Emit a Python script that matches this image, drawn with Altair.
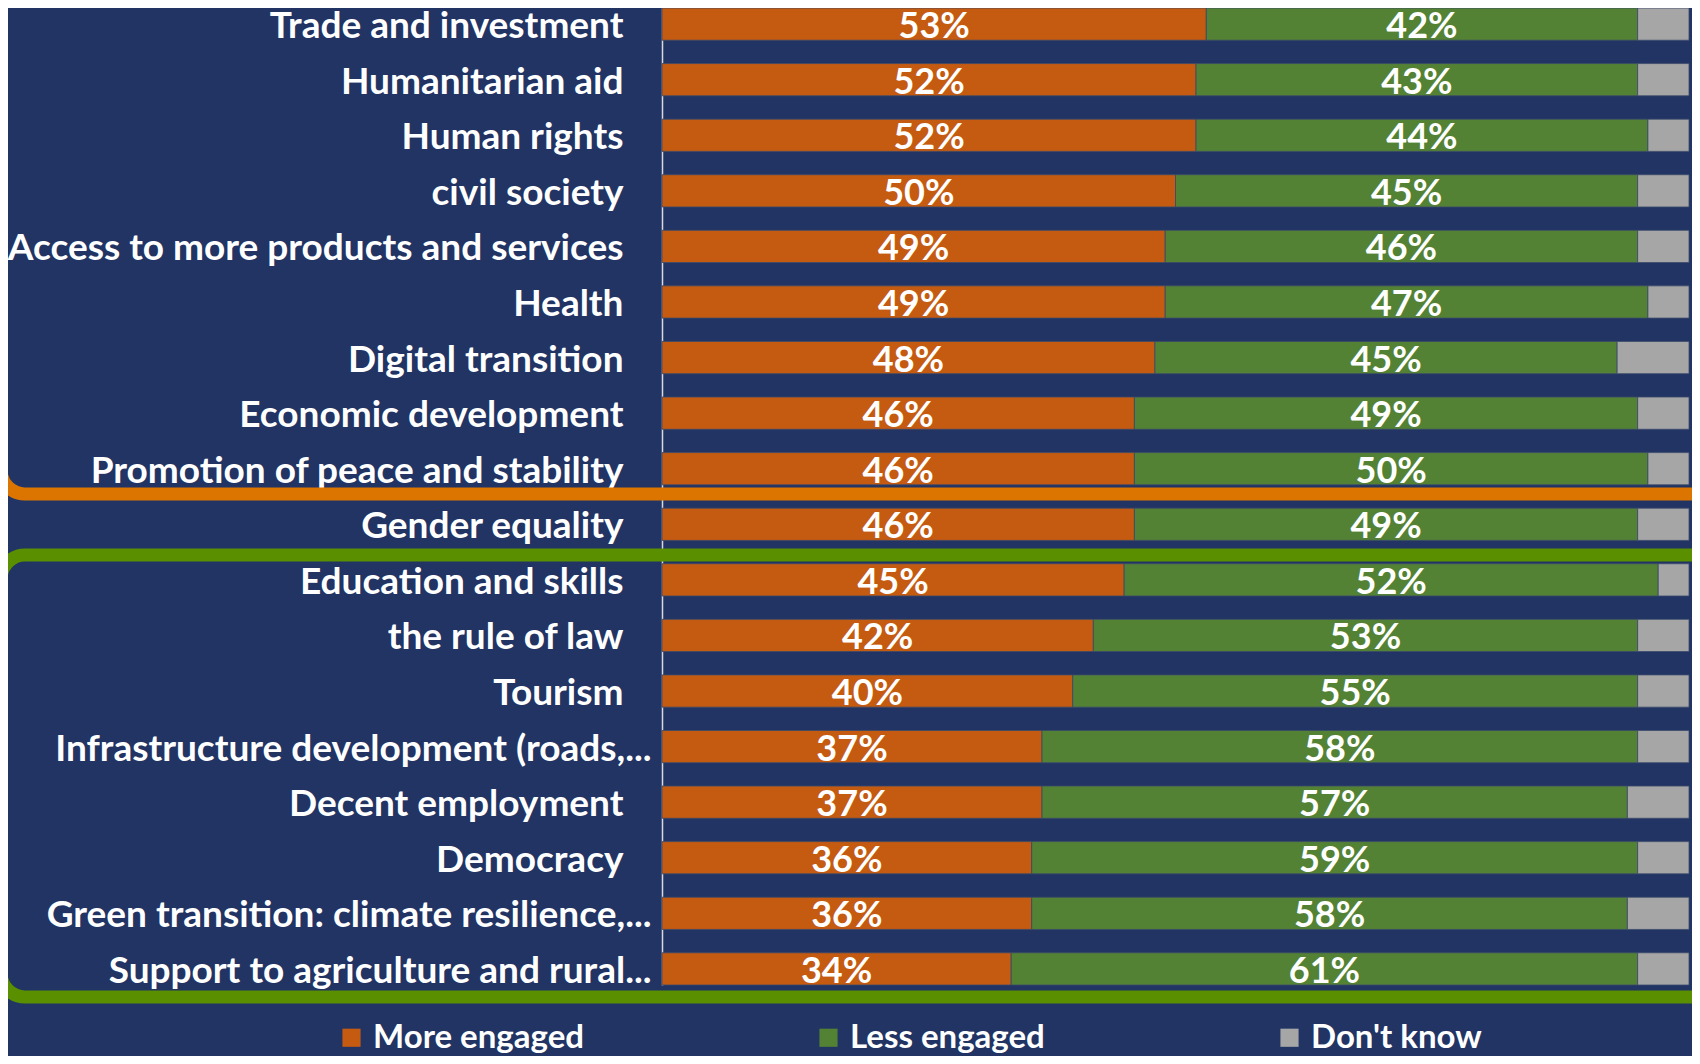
import altair as alt
import pandas as pd

categories = [
    "Trade and investment",
    "Humanitarian aid",
    "Human rights",
    "civil society",
    "Access to more products and services",
    "Health",
    "Digital transition",
    "Economic development",
    "Promotion of peace and stability",
    "Gender equality",
    "Education and skills",
    "the rule of law",
    "Tourism",
    "Infrastructure development (roads,...",
    "Decent employment",
    "Democracy",
    "Green transition: climate resilience,...",
    "Support to agriculture and rural...",
]
more_engaged = [53, 52, 52, 50, 49, 49, 48, 46, 46, 46, 45, 42, 40, 37, 37, 36, 36, 34]
less_engaged = [42, 43, 44, 45, 46, 47, 45, 49, 50, 49, 52, 53, 55, 58, 57, 59, 58, 61]
dont_know = [5, 5, 4, 5, 5, 4, 7, 5, 4, 5, 3, 5, 5, 5, 6, 5, 6, 5]

series_names = ["More engaged", "Less engaged", "Don't know"]
series_colors = ["#C55A11", "#548235", "#A6A6A6"]

rows = []
for i, c in enumerate(categories):
    for j, (s, vals) in enumerate(zip(series_names, [more_engaged, less_engaged, dont_know])):
        rows.append({"category": c, "series": s, "value": vals[i], "order": j})
df = pd.DataFrame(rows)

BG = "#213464"
FONT = "Lato"

y_enc = alt.Y(
    "category:N",
    sort=categories,
    scale=alt.Scale(paddingInner=0.42, paddingOuter=0),
    axis=alt.Axis(
        title=None,
        ticks=False,
        grid=False,
        domainColor="#D9D9D9",
        domainWidth=1.5,
        labelColor="white",
        labelFont=FONT,
        labelFontWeight="bold",
        labelFontSize=37,
        labelLimit=800,
        labelOffset=3,
        labelPadding={"condition": {"test": "indexof(datum.label, '...') > 0", "value": 11}, "value": 39},
    ),
)

base = alt.Chart(df).transform_stack(
    stack="value",
    groupby=["category"],
    sort=[alt.SortField("order", order="ascending")],
    as_=["x0", "x1"],
).transform_calculate(
    mid="(datum.x0 + datum.x1) / 2",
    label="datum.value + '%'",
)

bars = base.mark_bar(stroke="#3B4A6B", strokeWidth=0.8).encode(
    y=y_enc,
    x=alt.X("x0:Q", scale=alt.Scale(domain=[0, 100], nice=False), axis=None),
    x2="x1:Q",
    color=alt.Color(
        "series:N",
        scale=alt.Scale(domain=series_names, range=series_colors),
        legend=alt.Legend(
            title=None,
            orient="none",
            direction="horizontal",
            legendX=-327,
            legendY=1013,
            symbolType="square",
            symbolSize=330,
            symbolStrokeWidth=0,
            labelColor="white",
            labelFont=FONT,
            labelFontWeight="bold",
            labelFontSize=33,
            labelOffset=5,
            labelLimit=500,
            columnPadding=228,
        ),
    ),
)

texts = base.transform_filter("datum.series != \"Don't know\"").mark_text(
    color="white", font=FONT, fontWeight="bold", fontSize=36, baseline="middle", dy=3
).encode(
    y=alt.Y("category:N", sort=categories),
    x=alt.X("mid:Q"),
    text="label:N",
)

frame_df = pd.DataFrame({"k": [0]})
orange_frame = alt.Chart(frame_df).mark_rect(
    fillOpacity=0, stroke="#DB7500", strokeWidth=13, cornerRadius=24
).encode(x=alt.value(-661), x2=alt.value(1060), y=alt.value(-30), y2=alt.value(486))
green_frame = alt.Chart(frame_df).mark_rect(
    fillOpacity=0, stroke="#5A8F00", strokeWidth=13, cornerRadius=24
).encode(x=alt.value(-661), x2=alt.value(1060), y=alt.value(547), y2=alt.value(989))

chart = alt.layer(orange_frame, green_frame, bars, texts).properties(
    width=1027,
    height=977,
    autosize=alt.AutoSizeParams(type="none"),
    padding={"left": 654, "top": 0, "right": 3, "bottom": 71},
    background=BG,
).configure_view(stroke=None)

chart.save("out.html", embed_options={"renderer": "svg", "actions": False})
